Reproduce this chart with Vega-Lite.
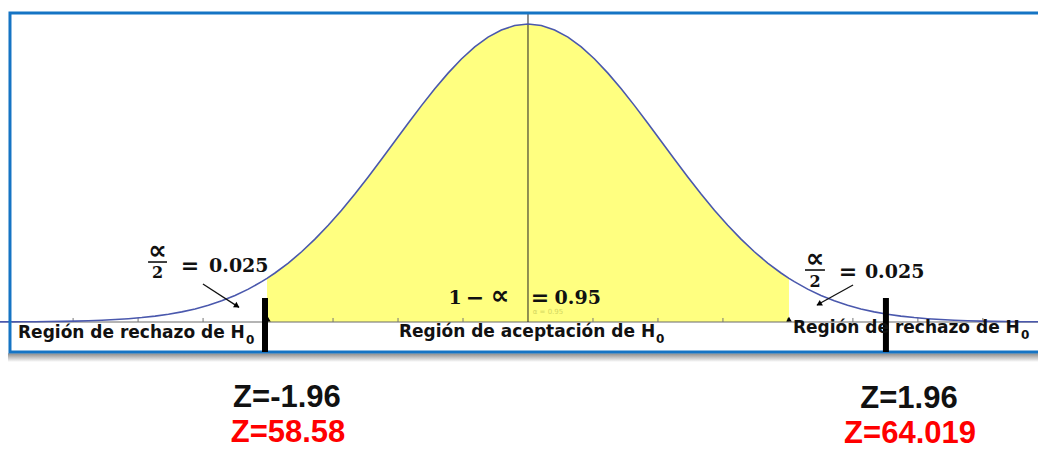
{
  "$schema": "https://vega.github.io/schema/vega-lite/v6.json",
  "width": 1038,
  "height": 451,
  "autosize": "none",
  "padding": 0,
  "background": "white",
  "config": {"view": {"stroke": null}},
  "datasets": {
    "curve": [
      {"z": -4.0, "d": 0.00013}, {"z": -3.9, "d": 0.0002}, {"z": -3.8, "d": 0.00029}, {"z": -3.7, "d": 0.00042},
      {"z": -3.6, "d": 0.00061}, {"z": -3.5, "d": 0.00087}, {"z": -3.4, "d": 0.00123}, {"z": -3.3, "d": 0.00172},
      {"z": -3.2, "d": 0.00238}, {"z": -3.1, "d": 0.00327}, {"z": -3.0, "d": 0.00443}, {"z": -2.9, "d": 0.00595},
      {"z": -2.8, "d": 0.00792}, {"z": -2.7, "d": 0.01042}, {"z": -2.6, "d": 0.01358}, {"z": -2.5, "d": 0.01753},
      {"z": -2.4, "d": 0.02239}, {"z": -2.3, "d": 0.02833}, {"z": -2.2, "d": 0.03547}, {"z": -2.1, "d": 0.04398},
      {"z": -2.0, "d": 0.05399}, {"z": -1.96, "d": 0.05844}, {"z": -1.9, "d": 0.06562}, {"z": -1.8, "d": 0.07895},
      {"z": -1.7, "d": 0.09405}, {"z": -1.6, "d": 0.11092}, {"z": -1.5, "d": 0.12952}, {"z": -1.4, "d": 0.14973},
      {"z": -1.3, "d": 0.17137}, {"z": -1.2, "d": 0.19419}, {"z": -1.1, "d": 0.21785}, {"z": -1.0, "d": 0.24197},
      {"z": -0.9, "d": 0.26609}, {"z": -0.8, "d": 0.28969}, {"z": -0.7, "d": 0.31225}, {"z": -0.6, "d": 0.33322},
      {"z": -0.5, "d": 0.35207}, {"z": -0.4, "d": 0.36827}, {"z": -0.3, "d": 0.38139}, {"z": -0.2, "d": 0.39104},
      {"z": -0.1, "d": 0.39695}, {"z": 0.0, "d": 0.39894}, {"z": 0.1, "d": 0.39695}, {"z": 0.2, "d": 0.39104},
      {"z": 0.3, "d": 0.38139}, {"z": 0.4, "d": 0.36827}, {"z": 0.5, "d": 0.35207}, {"z": 0.6, "d": 0.33322},
      {"z": 0.7, "d": 0.31225}, {"z": 0.8, "d": 0.28969}, {"z": 0.9, "d": 0.26609}, {"z": 1.0, "d": 0.24197},
      {"z": 1.1, "d": 0.21785}, {"z": 1.2, "d": 0.19419}, {"z": 1.3, "d": 0.17137}, {"z": 1.4, "d": 0.14973},
      {"z": 1.5, "d": 0.12952}, {"z": 1.6, "d": 0.11092}, {"z": 1.7, "d": 0.09405}, {"z": 1.8, "d": 0.07895},
      {"z": 1.9, "d": 0.06562}, {"z": 1.96, "d": 0.05844}, {"z": 2.0, "d": 0.05399}, {"z": 2.1, "d": 0.04398},
      {"z": 2.2, "d": 0.03547}, {"z": 2.3, "d": 0.02833}, {"z": 2.4, "d": 0.02239}, {"z": 2.5, "d": 0.01753},
      {"z": 2.6, "d": 0.01358}, {"z": 2.7, "d": 0.01042}, {"z": 2.8, "d": 0.00792}, {"z": 2.9, "d": 0.00595},
      {"z": 3.0, "d": 0.00443}, {"z": 3.1, "d": 0.00327}, {"z": 3.2, "d": 0.00238}, {"z": 3.3, "d": 0.00172},
      {"z": 3.4, "d": 0.00123}, {"z": 3.5, "d": 0.00087}, {"z": 3.6, "d": 0.00061}, {"z": 3.7, "d": 0.00042},
      {"z": 3.8, "d": 0.00029}, {"z": 3.9, "d": 0.0002}, {"z": 4.0, "d": 0.00013}
    ],
    "ticks": [
      {"z": -3.416}, {"z": -2.928}, {"z": -2.44}, {"z": -1.952}, {"z": -1.464}, {"z": -0.976}, {"z": -0.488},
      {"z": 0.488}, {"z": 0.976}, {"z": 1.464}, {"z": 1.952}, {"z": 2.44}, {"z": 2.928}, {"z": 3.416}
    ],
    "one": [{}]
  },
  "layer": [
    {
      "data": {"name": "one"},
      "mark": {"type": "rect", "fill": {"gradient": "linear", "x1": 0, "y1": 0, "x2": 0, "y2": 1, "stops": [{"offset": 0, "color": "#8a8a8a"}, {"offset": 1, "color": "#ffffff"}]}, "clip": true},
      "encoding": {
        "x": {"datum": -3.905, "type": "quantitative", "scale": {"domain": [-3.965, 3.83], "nice": false, "zero": false}, "axis": null},
        "x2": {"datum": 3.92},
        "y": {"datum": -0.0418, "type": "quantitative", "scale": {"domain": [-0.17269, 0.4311], "nice": false, "zero": false}, "axis": null},
        "y2": {"datum": -0.0536}
      }
    },
    {
      "data": {"name": "curve"},
      "transform": [{"filter": "datum.z >= -1.96 && datum.z <= 1.96"}],
      "mark": {"type": "area", "color": "#ffff80", "opacity": 1},
      "encoding": {
        "x": {"field": "z", "type": "quantitative", "scale": {"domain": [-3.965, 3.83], "nice": false, "zero": false}, "axis": null},
        "y": {"field": "d", "type": "quantitative", "scale": {"domain": [-0.17269, 0.4311], "nice": false, "zero": false}, "axis": null},
        "y2": {"datum": 0}
      }
    },
    {
      "data": {"name": "one"},
      "mark": {"type": "rule", "color": "#6a6a6a", "strokeWidth": 1.2},
      "encoding": {
        "x": {"datum": -3.875, "type": "quantitative", "scale": {"domain": [-3.965, 3.83], "nice": false, "zero": false}, "axis": null},
        "x2": {"datum": 3.92},
        "y": {"datum": 0, "type": "quantitative", "scale": {"domain": [-0.17269, 0.4311], "nice": false, "zero": false}, "axis": null}
      }
    },
    {
      "data": {"name": "ticks"},
      "mark": {"type": "rule", "color": "#777777", "strokeWidth": 1},
      "encoding": {
        "x": {"field": "z", "type": "quantitative", "scale": {"domain": [-3.965, 3.83], "nice": false, "zero": false}, "axis": null},
        "y": {"datum": 0, "type": "quantitative", "scale": {"domain": [-0.17269, 0.4311], "nice": false, "zero": false}, "axis": null},
        "y2": {"datum": 0.0054}
      }
    },
    {
      "data": {"name": "one"},
      "mark": {"type": "rule", "color": "#222222", "strokeWidth": 1},
      "encoding": {
        "x": {"datum": 0, "type": "quantitative", "scale": {"domain": [-3.965, 3.83], "nice": false, "zero": false}, "axis": null},
        "y": {"datum": 0, "type": "quantitative", "scale": {"domain": [-0.17269, 0.4311], "nice": false, "zero": false}, "axis": null},
        "y2": {"datum": 0.4123}
      }
    },
    {
      "data": {"name": "curve"},
      "mark": {"type": "line", "color": "#4a58ad", "strokeWidth": 1.6, "clip": true},
      "encoding": {
        "x": {"field": "z", "type": "quantitative", "scale": {"domain": [-3.965, 3.83], "nice": false, "zero": false}, "axis": null},
        "y": {"field": "d", "type": "quantitative", "scale": {"domain": [-0.17269, 0.4311], "nice": false, "zero": false}, "axis": null}
      }
    },
    {
      "data": {"name": "one"},
      "mark": {"type": "rect", "fill": "transparent", "stroke": "#1574c4", "strokeWidth": 3, "clip": true},
      "encoding": {
        "x": {"datum": -3.89, "type": "quantitative", "scale": {"domain": [-3.965, 3.83], "nice": false, "zero": false}, "axis": null},
        "x2": {"datum": 3.95},
        "y": {"datum": 0.4137, "type": "quantitative", "scale": {"domain": [-0.17269, 0.4311], "nice": false, "zero": false}, "axis": null},
        "y2": {"datum": -0.04016}
      }
    },
    {
      "data": {"values": [{"z": -1.953}, {"z": 1.96}]},
      "mark": {"type": "point", "shape": "triangle-up", "filled": true, "color": "#000000", "size": 30, "opacity": 1},
      "encoding": {
        "x": {"field": "z", "type": "quantitative", "scale": {"domain": [-3.965, 3.83], "nice": false, "zero": false}, "axis": null},
        "y": {"datum": 0.004, "type": "quantitative", "scale": {"domain": [-0.17269, 0.4311], "nice": false, "zero": false}, "axis": null}
      }
    },
    {
      "data": {"values": [{"z": -1.975}, {"z": 2.688}]},
      "mark": {"type": "rule", "color": "#000000", "strokeWidth": 6},
      "encoding": {
        "x": {"field": "z", "type": "quantitative", "scale": {"domain": [-3.965, 3.83], "nice": false, "zero": false}, "axis": null},
        "y": {"datum": 0.03213, "type": "quantitative", "scale": {"domain": [-0.17269, 0.4311], "nice": false, "zero": false}, "axis": null},
        "y2": {"datum": -0.04016}
      }
    },
    {
      "data": {"name": "one"},
      "mark": {"type": "rule", "color": "#111111", "strokeWidth": 1.3},
      "encoding": {
        "x": {"datum": -2.441, "type": "quantitative", "scale": {"domain": [-3.965, 3.83], "nice": false, "zero": false}, "axis": null},
        "x2": {"datum": -2.17},
        "y": {"datum": 0.05087, "type": "quantitative", "scale": {"domain": [-0.17269, 0.4311], "nice": false, "zero": false}, "axis": null},
        "y2": {"datum": 0.0196}
      }
    },
    {
      "data": {"name": "one"},
      "mark": {"type": "point", "shape": "triangle-up", "filled": true, "color": "#000000", "size": 40, "angle": 123, "opacity": 1},
      "encoding": {
        "x": {"datum": -2.185, "type": "quantitative", "scale": {"domain": [-3.965, 3.83], "nice": false, "zero": false}, "axis": null},
        "y": {"datum": 0.02142, "type": "quantitative", "scale": {"domain": [-0.17269, 0.4311], "nice": false, "zero": false}, "axis": null}
      }
    },
    {
      "data": {"name": "one"},
      "mark": {"type": "rule", "color": "#111111", "strokeWidth": 1.3},
      "encoding": {
        "x": {"datum": 2.441, "type": "quantitative", "scale": {"domain": [-3.965, 3.83], "nice": false, "zero": false}, "axis": null},
        "x2": {"datum": 2.17},
        "y": {"datum": 0.04953, "type": "quantitative", "scale": {"domain": [-0.17269, 0.4311], "nice": false, "zero": false}, "axis": null},
        "y2": {"datum": 0.0228}
      }
    },
    {
      "data": {"name": "one"},
      "mark": {"type": "point", "shape": "triangle-up", "filled": true, "color": "#000000", "size": 40, "angle": 240, "opacity": 1},
      "encoding": {
        "x": {"datum": 2.185, "type": "quantitative", "scale": {"domain": [-3.965, 3.83], "nice": false, "zero": false}, "axis": null},
        "y": {"datum": 0.0241, "type": "quantitative", "scale": {"domain": [-0.17269, 0.4311], "nice": false, "zero": false}, "axis": null}
      }
    },
    {
      "data": {"name": "one"},
      "mark": {"type": "rule", "color": "#111111", "strokeWidth": 1.6},
      "encoding": {
        "x": {"datum": -2.853, "type": "quantitative", "scale": {"domain": [-3.965, 3.83], "nice": false, "zero": false}, "axis": null},
        "x2": {"datum": -2.711},
        "y": {"datum": 0.08032, "type": "quantitative", "scale": {"domain": [-0.17269, 0.4311], "nice": false, "zero": false}, "axis": null}
      }
    },
    {
      "data": {"name": "one"},
      "mark": {"type": "rule", "color": "#111111", "strokeWidth": 1.6},
      "encoding": {
        "x": {"datum": 2.08, "type": "quantitative", "scale": {"domain": [-3.965, 3.83], "nice": false, "zero": false}, "axis": null},
        "x2": {"datum": 2.23},
        "y": {"datum": 0.06961, "type": "quantitative", "scale": {"domain": [-0.17269, 0.4311], "nice": false, "zero": false}, "axis": null}
      }
    },
    {
      "data": {"name": "one"},
      "mark": {"type": "text", "text": "∝", "font": "DejaVu Sans", "fontSize": 26, "fontWeight": "bold", "align": "center", "baseline": "middle", "color": "#111111"},
      "encoding": {
        "x": {"datum": -2.782, "type": "quantitative", "scale": {"domain": [-3.965, 3.83], "nice": false, "zero": false}, "axis": null},
        "y": {"datum": 0.0951, "type": "quantitative", "scale": {"domain": [-0.17269, 0.4311], "nice": false, "zero": false}, "axis": null}
      }
    },
    {
      "data": {"name": "one"},
      "mark": {"type": "text", "text": "2", "font": "DejaVu Serif", "fontSize": 16, "fontWeight": "bold", "align": "center", "baseline": "middle", "color": "#111111"},
      "encoding": {
        "x": {"datum": -2.782, "type": "quantitative", "scale": {"domain": [-3.965, 3.83], "nice": false, "zero": false}, "axis": null},
        "y": {"datum": 0.0656, "type": "quantitative", "scale": {"domain": [-0.17269, 0.4311], "nice": false, "zero": false}, "axis": null}
      }
    },
    {
      "data": {"name": "one"},
      "mark": {"type": "text", "text": "=", "font": "DejaVu Sans", "fontSize": 22, "fontWeight": "bold", "align": "center", "baseline": "middle", "color": "#111111"},
      "encoding": {
        "x": {"datum": -2.538, "type": "quantitative", "scale": {"domain": [-3.965, 3.83], "nice": false, "zero": false}, "axis": null},
        "y": {"datum": 0.07497, "type": "quantitative", "scale": {"domain": [-0.17269, 0.4311], "nice": false, "zero": false}, "axis": null}
      }
    },
    {
      "data": {"name": "one"},
      "mark": {"type": "text", "text": "0.025", "font": "DejaVu Serif", "fontSize": 19, "fontWeight": "bold", "align": "left", "baseline": "middle", "color": "#111111"},
      "encoding": {
        "x": {"datum": -2.395, "type": "quantitative", "scale": {"domain": [-3.965, 3.83], "nice": false, "zero": false}, "axis": null},
        "y": {"datum": 0.07497, "type": "quantitative", "scale": {"domain": [-0.17269, 0.4311], "nice": false, "zero": false}, "axis": null}
      }
    },
    {
      "data": {"name": "one"},
      "mark": {"type": "text", "text": "∝", "font": "DejaVu Sans", "fontSize": 26, "fontWeight": "bold", "align": "center", "baseline": "middle", "color": "#111111"},
      "encoding": {
        "x": {"datum": 2.155, "type": "quantitative", "scale": {"domain": [-3.965, 3.83], "nice": false, "zero": false}, "axis": null},
        "y": {"datum": 0.0844, "type": "quantitative", "scale": {"domain": [-0.17269, 0.4311], "nice": false, "zero": false}, "axis": null}
      }
    },
    {
      "data": {"name": "one"},
      "mark": {"type": "text", "text": "2", "font": "DejaVu Serif", "fontSize": 16, "fontWeight": "bold", "align": "center", "baseline": "middle", "color": "#111111"},
      "encoding": {
        "x": {"datum": 2.155, "type": "quantitative", "scale": {"domain": [-3.965, 3.83], "nice": false, "zero": false}, "axis": null},
        "y": {"datum": 0.0535, "type": "quantitative", "scale": {"domain": [-0.17269, 0.4311], "nice": false, "zero": false}, "axis": null}
      }
    },
    {
      "data": {"name": "one"},
      "mark": {"type": "text", "text": "=", "font": "DejaVu Sans", "fontSize": 22, "fontWeight": "bold", "align": "center", "baseline": "middle", "color": "#111111"},
      "encoding": {
        "x": {"datum": 2.403, "type": "quantitative", "scale": {"domain": [-3.965, 3.83], "nice": false, "zero": false}, "axis": null},
        "y": {"datum": 0.06693, "type": "quantitative", "scale": {"domain": [-0.17269, 0.4311], "nice": false, "zero": false}, "axis": null}
      }
    },
    {
      "data": {"name": "one"},
      "mark": {"type": "text", "text": "0.025", "font": "DejaVu Serif", "fontSize": 19, "fontWeight": "bold", "align": "left", "baseline": "middle", "color": "#111111"},
      "encoding": {
        "x": {"datum": 2.53, "type": "quantitative", "scale": {"domain": [-3.965, 3.83], "nice": false, "zero": false}, "axis": null},
        "y": {"datum": 0.06693, "type": "quantitative", "scale": {"domain": [-0.17269, 0.4311], "nice": false, "zero": false}, "axis": null}
      }
    },
    {
      "data": {"name": "one"},
      "mark": {"type": "text", "text": "1", "font": "DejaVu Serif", "fontSize": 19, "fontWeight": "bold", "align": "center", "baseline": "middle", "color": "#111111"},
      "encoding": {
        "x": {"datum": -0.548, "type": "quantitative", "scale": {"domain": [-3.965, 3.83], "nice": false, "zero": false}, "axis": null},
        "y": {"datum": 0.03213, "type": "quantitative", "scale": {"domain": [-0.17269, 0.4311], "nice": false, "zero": false}, "axis": null}
      }
    },
    {
      "data": {"name": "one"},
      "mark": {"type": "text", "text": "−", "font": "DejaVu Sans", "fontSize": 22, "fontWeight": "bold", "align": "center", "baseline": "middle", "color": "#111111"},
      "encoding": {
        "x": {"datum": -0.398, "type": "quantitative", "scale": {"domain": [-3.965, 3.83], "nice": false, "zero": false}, "axis": null},
        "y": {"datum": 0.03213, "type": "quantitative", "scale": {"domain": [-0.17269, 0.4311], "nice": false, "zero": false}, "axis": null}
      }
    },
    {
      "data": {"name": "one"},
      "mark": {"type": "text", "text": "∝", "font": "DejaVu Sans", "fontSize": 26, "fontWeight": "bold", "align": "center", "baseline": "middle", "color": "#111111"},
      "encoding": {
        "x": {"datum": -0.21, "type": "quantitative", "scale": {"domain": [-3.965, 3.83], "nice": false, "zero": false}, "axis": null},
        "y": {"datum": 0.0348, "type": "quantitative", "scale": {"domain": [-0.17269, 0.4311], "nice": false, "zero": false}, "axis": null}
      }
    },
    {
      "data": {"name": "one"},
      "mark": {"type": "text", "text": "=", "font": "DejaVu Sans", "fontSize": 22, "fontWeight": "bold", "align": "center", "baseline": "middle", "color": "#111111"},
      "encoding": {
        "x": {"datum": 0.09, "type": "quantitative", "scale": {"domain": [-3.965, 3.83], "nice": false, "zero": false}, "axis": null},
        "y": {"datum": 0.03213, "type": "quantitative", "scale": {"domain": [-0.17269, 0.4311], "nice": false, "zero": false}, "axis": null}
      }
    },
    {
      "data": {"name": "one"},
      "mark": {"type": "text", "text": "0.95", "font": "DejaVu Serif", "fontSize": 19, "fontWeight": "bold", "align": "left", "baseline": "middle", "color": "#111111"},
      "encoding": {
        "x": {"datum": 0.2, "type": "quantitative", "scale": {"domain": [-3.965, 3.83], "nice": false, "zero": false}, "axis": null},
        "y": {"datum": 0.03213, "type": "quantitative", "scale": {"domain": [-0.17269, 0.4311], "nice": false, "zero": false}, "axis": null}
      }
    },
    {
      "data": {"name": "one"},
      "mark": {"type": "text", "text": "α = 0.95", "font": "DejaVu Sans", "fontSize": 7, "align": "center", "baseline": "middle", "color": "#d4d860"},
      "encoding": {
        "x": {"datum": 0.15, "type": "quantitative", "scale": {"domain": [-3.965, 3.83], "nice": false, "zero": false}, "axis": null},
        "y": {"datum": 0.0134, "type": "quantitative", "scale": {"domain": [-0.17269, 0.4311], "nice": false, "zero": false}, "axis": null}
      }
    },
    {
      "data": {"name": "one"},
      "mark": {"type": "text", "text": "Región de rechazo de H", "font": "DejaVu Sans", "fontSize": 17, "fontWeight": "bold", "align": "center", "baseline": "alphabetic", "color": "#111111"},
      "encoding": {
        "x": {"datum": -2.978, "type": "quantitative", "scale": {"domain": [-3.965, 3.83], "nice": false, "zero": false}, "axis": null},
        "y": {"datum": -0.02142, "type": "quantitative", "scale": {"domain": [-0.17269, 0.4311], "nice": false, "zero": false}, "axis": null}
      }
    },
    {
      "data": {"name": "one"},
      "mark": {"type": "text", "text": "0", "font": "DejaVu Sans", "fontSize": 12, "fontWeight": "bold", "align": "left", "baseline": "alphabetic", "color": "#111111"},
      "encoding": {
        "x": {"datum": -2.118, "type": "quantitative", "scale": {"domain": [-3.965, 3.83], "nice": false, "zero": false}, "axis": null},
        "y": {"datum": -0.02945, "type": "quantitative", "scale": {"domain": [-0.17269, 0.4311], "nice": false, "zero": false}, "axis": null}
      }
    },
    {
      "data": {"name": "one"},
      "mark": {"type": "text", "text": "Región de aceptación de H", "font": "DejaVu Sans", "fontSize": 17, "fontWeight": "bold", "align": "center", "baseline": "alphabetic", "color": "#111111"},
      "encoding": {
        "x": {"datum": -0.0075, "type": "quantitative", "scale": {"domain": [-3.965, 3.83], "nice": false, "zero": false}, "axis": null},
        "y": {"datum": -0.02008, "type": "quantitative", "scale": {"domain": [-0.17269, 0.4311], "nice": false, "zero": false}, "axis": null}
      }
    },
    {
      "data": {"name": "one"},
      "mark": {"type": "text", "text": "0", "font": "DejaVu Sans", "fontSize": 12, "fontWeight": "bold", "align": "left", "baseline": "alphabetic", "color": "#111111"},
      "encoding": {
        "x": {"datum": 0.961, "type": "quantitative", "scale": {"domain": [-3.965, 3.83], "nice": false, "zero": false}, "axis": null},
        "y": {"datum": -0.02811, "type": "quantitative", "scale": {"domain": [-0.17269, 0.4311], "nice": false, "zero": false}, "axis": null}
      }
    },
    {
      "data": {"name": "one"},
      "mark": {"type": "text", "text": "Región de rechazo de H", "font": "DejaVu Sans", "fontSize": 17, "fontWeight": "bold", "align": "left", "baseline": "alphabetic", "color": "#111111"},
      "encoding": {
        "x": {"datum": 1.99, "type": "quantitative", "scale": {"domain": [-3.965, 3.83], "nice": false, "zero": false}, "axis": null},
        "y": {"datum": -0.01473, "type": "quantitative", "scale": {"domain": [-0.17269, 0.4311], "nice": false, "zero": false}, "axis": null}
      }
    },
    {
      "data": {"name": "one"},
      "mark": {"type": "text", "text": "0", "font": "DejaVu Sans", "fontSize": 12, "fontWeight": "bold", "align": "left", "baseline": "alphabetic", "color": "#111111"},
      "encoding": {
        "x": {"datum": 3.702, "type": "quantitative", "scale": {"domain": [-3.965, 3.83], "nice": false, "zero": false}, "axis": null},
        "y": {"datum": -0.02276, "type": "quantitative", "scale": {"domain": [-0.17269, 0.4311], "nice": false, "zero": false}, "axis": null}
      }
    },
    {
      "data": {"name": "one"},
      "mark": {"type": "text", "text": "Z=-1.96", "font": "Liberation Sans", "fontSize": 31, "fontWeight": "bold", "align": "center", "baseline": "alphabetic", "color": "#111111"},
      "encoding": {
        "x": {"datum": -1.81, "type": "quantitative", "scale": {"domain": [-3.965, 3.83], "nice": false, "zero": false}, "axis": null},
        "y": {"datum": -0.11379, "type": "quantitative", "scale": {"domain": [-0.17269, 0.4311], "nice": false, "zero": false}, "axis": null}
      }
    },
    {
      "data": {"name": "one"},
      "mark": {"type": "text", "text": "Z=58.58", "font": "Liberation Sans", "fontSize": 31, "fontWeight": "bold", "align": "center", "baseline": "alphabetic", "color": "#ff0000"},
      "encoding": {
        "x": {"datum": -1.802, "type": "quantitative", "scale": {"domain": [-3.965, 3.83], "nice": false, "zero": false}, "axis": null},
        "y": {"datum": -0.16064, "type": "quantitative", "scale": {"domain": [-0.17269, 0.4311], "nice": false, "zero": false}, "axis": null}
      }
    },
    {
      "data": {"name": "one"},
      "mark": {"type": "text", "text": "Z=1.96", "font": "Liberation Sans", "fontSize": 31, "fontWeight": "bold", "align": "center", "baseline": "alphabetic", "color": "#111111"},
      "encoding": {
        "x": {"datum": 2.861, "type": "quantitative", "scale": {"domain": [-3.965, 3.83], "nice": false, "zero": false}, "axis": null},
        "y": {"datum": -0.1151, "type": "quantitative", "scale": {"domain": [-0.17269, 0.4311], "nice": false, "zero": false}, "axis": null}
      }
    },
    {
      "data": {"name": "one"},
      "mark": {"type": "text", "text": "Z=64.019", "font": "Liberation Sans", "fontSize": 31, "fontWeight": "bold", "align": "center", "baseline": "alphabetic", "color": "#ff0000"},
      "encoding": {
        "x": {"datum": 2.869, "type": "quantitative", "scale": {"domain": [-3.965, 3.83], "nice": false, "zero": false}, "axis": null},
        "y": {"datum": -0.1620, "type": "quantitative", "scale": {"domain": [-0.17269, 0.4311], "nice": false, "zero": false}, "axis": null}
      }
    }
  ]
}
